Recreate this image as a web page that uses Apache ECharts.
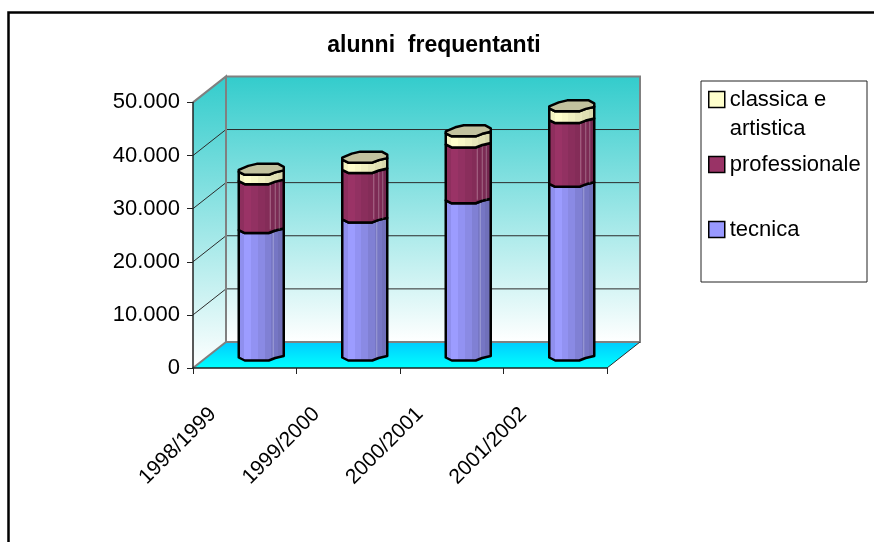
<!DOCTYPE html>
<html>
<head>
<meta charset="utf-8">
<style>html,body{margin:0;padding:0;background:#fff}#chart{width:874px;height:542px}</style>
<script src="https://cdn.jsdelivr.net/npm/echarts@6/dist/echarts.min.js"></script>
</head>
<body>
<div id="chart"></div>
<script>
// Alunni frequentanti per anno scolastico e tipo di istituto
const categories = ['1998/1999', '1999/2000', '2000/2001', '2001/2002'];
const tecnica = [24000, 26000, 29600, 32700];
const professionale = [9200, 9300, 10500, 12000];
const classica = [1750, 1950, 2100, 2200];
const seriesNames = ['tecnica', 'professionale', 'classica e artistica'];
const yMin = 0, yMax = 50000, yStep = 10000;

// Pseudo-3D depth of the plot box
const DX = 33, DY = -26;
const FONT = '"Liberation Sans", Arial, sans-serif';

// Octagonal column outline, in px around the column centre
const FRONT_RIM = [[22.5, 1], [14, 3], [7.5, 5.5], [-16.5, 5.5], [-22.5, 2.5]];
const BACK_RIM = [[-22.5, 0.5], [-13, -3.5], [-4.5, -5.5], [17, -5.5], [22.5, -2.5]];

const palette = {
  tecnica: { color: '#9999FF', bands: ['#8F8FEE', '#9C9CFF', '#9292F2', '#8A8AE4', '#8080D4', '#7676C4', '#7070BA'], lines: [12] },
  professionale: { color: '#993366', bands: ['#8E2F5E', '#9A3366', '#923162', '#8A2E5C', '#842C58', '#7C2A54', '#742750'], lines: [9, 14, 18] },
  classica: { color: '#FFFFCC', bands: ['#F4F4C2', '#FFFFCC', '#F8F8C6', '#F0F0C0', '#E8E8BA', '#E0E0B3', '#D8D8AC'], lines: [] }
};

function bandGradient(bands) {
  const stops = [];
  bands.forEach((c, i) => {
    stops.push({ offset: i / bands.length, color: c });
    stops.push({ offset: (i + 1) / bands.length, color: c });
  });
  return { type: 'linear', x: 0, y: 0, x2: 1, y2: 0, colorStops: stops };
}

// One stacked segment of a column, between the values start and end
function columnSegment(style, withTop) {
  return function (params, api) {
    const idx = api.value(0);
    const band = api.size([1, 0])[0];
    const k = band / 103.5;
    const cx = api.coord([idx, 0])[0] + DX / 2;
    const yLow = api.coord([idx, api.value(1)])[1] + DY / 2;
    const yTop = api.coord([idx, api.value(2)])[1] + DY / 2;
    const rim = (pts, y) => pts.map(p => [cx + p[0] * k, y + p[1]]);
    const upperFront = rim(FRONT_RIM, yTop);
    const lowerFront = rim(FRONT_RIM, yLow).reverse();
    const children = [{
      type: 'polygon',
      shape: { points: upperFront.concat(lowerFront) },
      style: { fill: bandGradient(style.bands), stroke: '#000', lineWidth: 2.5, lineJoin: 'round' }
    }];
    style.lines.forEach(off => {
      children.push({
        type: 'line',
        shape: { x1: cx + off * k, y1: yTop + 4, x2: cx + off * k, y2: yLow + 2 },
        style: { stroke: 'rgba(255,255,255,0.3)', lineWidth: 1 }
      });
    });
    if (withTop) {
      children.push({
        type: 'polygon',
        shape: { points: rim(BACK_RIM.concat(FRONT_RIM), yTop) },
        style: { fill: '#C2C29E', stroke: '#000', lineWidth: 2.5, lineJoin: 'round' }
      });
    }
    return { type: 'group', children };
  };
}

// Walls, floor and gridlines of the plot box
function renderBox(params, api) {
  const [xl, y0] = api.coord([0, yMin]);
  const band = api.size([1, 0])[0];
  const x0 = xl - band / 2;
  const x1 = x0 + band * categories.length;
  const yT = api.coord([0, yMax])[1];
  const bx0 = x0 + DX, bx1 = x1 + DX, by0 = y0 + DY, byT = yT + DY;
  const wall = { type: 'linear', x: 0, y: 0, x2: 0, y2: 1, colorStops: [{ offset: 0, color: '#33CCCC' }, { offset: 1, color: '#FFFFFF' }] };
  const floor = { type: 'linear', x: 0, y: 0, x2: 0, y2: 1, colorStops: [{ offset: 0, color: '#00CCFF' }, { offset: 1, color: '#00FFFF' }] };
  const children = [
    { type: 'polygon', shape: { points: [[bx0, byT], [bx1, byT], [bx1, by0], [bx0, by0]] }, style: { fill: wall } },
    { type: 'polygon', shape: { points: [[x0, yT], [bx0, byT], [bx0, by0], [x0, y0]] }, style: { fill: wall } },
    { type: 'polygon', shape: { points: [[x0, y0], [bx0, by0], [bx1, by0], [x1, y0]] }, style: { fill: floor } }
  ];
  for (let v = yMin + yStep; v < yMax; v += yStep) {
    const y = api.coord([0, v])[1];
    children.push({ type: 'polyline', shape: { points: [[x0, y], [bx0, y + DY], [bx1, y + DY]] }, style: { fill: 'none', stroke: '#2B2B2B', lineWidth: 1 } });
  }
  const grey = { fill: 'none', stroke: '#808080', lineWidth: 2 };
  children.push({ type: 'polyline', shape: { points: [[x0, yT], [bx0, byT], [bx0, by0]] }, style: grey });
  children.push({ type: 'polyline', shape: { points: [[bx0, byT], [bx1, byT], [bx1, by0], [bx0, by0], [x0, y0]] }, style: grey });
  children.push({ type: 'line', shape: { x1: x1, y1: y0, x2: bx1, y2: by0 }, style: { stroke: '#2B2B2B', lineWidth: 1 } });
  return { type: 'group', children };
}

function segmentRows(base, values) {
  return values.map((v, i) => [i, base[i], base[i] + v]);
}

const zero = categories.map(() => 0);
const rowsTecnica = segmentRows(zero, tecnica);
const rowsProfessionale = segmentRows(rowsTecnica.map(r => r[2]), professionale);
const rowsClassica = segmentRows(rowsProfessionale.map(r => r[2]), classica);

const legendLabels = {
  'tecnica': '\ntecnica\n ',
  'professionale': '\nprofessionale\n ',
  'classica e artistica': '\nclassica e\nartistica'
};

const chart = echarts.init(document.getElementById('chart'), null, { renderer: 'canvas' });
chart.setOption({
  animation: false,
  backgroundColor: '#FFFFFF',
  title: {
    text: 'alunni  frequentanti',
    left: 429, top: 29, textAlign: 'center',
    textStyle: { fontFamily: FONT, fontSize: 23, fontWeight: 'bold', color: '#000' }
  },
  legend: {
    orient: 'vertical', left: 703, top: 51, padding: 5,
    itemWidth: 16, itemHeight: 16, itemGap: -22,
    selectedMode: false,
    formatter: name => legendLabels[name],
    textStyle: { fontFamily: FONT, fontSize: 22, lineHeight: 29, color: '#000' },
    data: [
      { name: seriesNames[2], icon: 'rect', itemStyle: { color: palette.classica.color, borderColor: '#000', borderWidth: 1.5 } },
      { name: seriesNames[1], icon: 'rect', itemStyle: { color: palette.professionale.color, borderColor: '#000', borderWidth: 1.5 } },
      { name: seriesNames[0], icon: 'rect', itemStyle: { color: palette.tecnica.color, borderColor: '#000', borderWidth: 1.5 } }
    ]
  },
  grid: { left: 193, top: 102.4, width: 414, height: 265.6, containLabel: false },
  xAxis: {
    type: 'category', data: categories, z: 4,
    axisLine: { lineStyle: { color: '#222', width: 1.5 } },
    axisTick: { show: true, alignWithLabel: false, length: 6, lineStyle: { color: '#222' } },
    axisLabel: { rotate: 45, margin: 11, padding: [0, 45, 0, 0], interval: 0, fontFamily: FONT, fontSize: 21, color: '#000' }
  },
  yAxis: {
    type: 'value', min: yMin, max: yMax, interval: yStep, z: 4,
    axisLine: { show: true, lineStyle: { color: '#222', width: 1.5 } },
    axisTick: { show: true, length: 6, lineStyle: { color: '#222' } },
    splitLine: { show: false },
    axisLabel: {
      margin: 13, fontFamily: FONT, fontSize: 22, color: '#000',
      formatter: v => String(v).replace(/\B(?=(\d{3})+$)/g, '.')
    }
  },
  graphic: [
    { type: 'polyline', z: -1, silent: true, shape: { points: [[8.5, 542], [8.5, 12.5], [874, 12.5]] }, style: { fill: 'none', stroke: '#000', lineWidth: 2.5 } },
    { type: 'rect', z: -1, silent: true, shape: { x: 701, y: 81, width: 166, height: 201 }, style: { fill: '#fff', stroke: '#222', lineWidth: 1 } }
  ],
  series: [
    { type: 'custom', name: 'box', z: 1, silent: true, coordinateSystem: 'cartesian2d', renderItem: renderBox, data: [[0, 0]], encode: { x: 0, y: 1 } },
    { type: 'custom', name: seriesNames[0], z: 5, coordinateSystem: 'cartesian2d', renderItem: columnSegment(palette.tecnica, false), data: rowsTecnica, encode: { x: 0, y: [1, 2] } },
    { type: 'custom', name: seriesNames[1], z: 6, coordinateSystem: 'cartesian2d', renderItem: columnSegment(palette.professionale, false), data: rowsProfessionale, encode: { x: 0, y: [1, 2] } },
    { type: 'custom', name: seriesNames[2], z: 7, coordinateSystem: 'cartesian2d', renderItem: columnSegment(palette.classica, true), data: rowsClassica, encode: { x: 0, y: [1, 2] } }
  ]
});
</script>
</body>
</html>
